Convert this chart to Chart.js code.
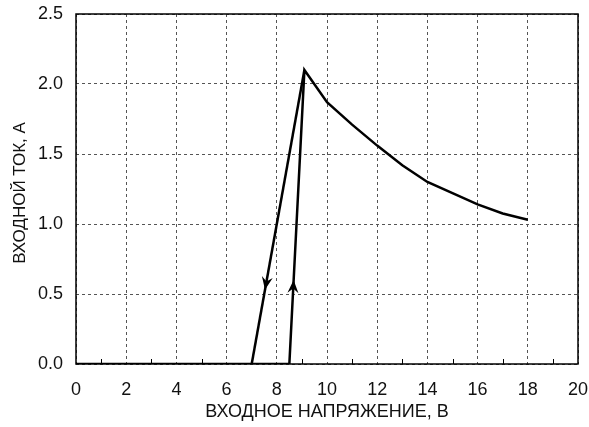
<!DOCTYPE html>
<html>
<head>
<meta charset="utf-8">
<script src="https://cdn.jsdelivr.net/npm/chart.js@4"></script>
<style>
  html, body { margin: 0; padding: 0; background: #fff; }
  #wrap { width: 589px; height: 427px; }
</style>
</head>
<body>
<div id="wrap"><canvas id="iv"></canvas></div>
<script>
// rising branch and the falling current after the peak
const forwardV = [0, 8.5, 9.1, 10, 11, 12, 13, 14, 15, 16, 17, 18];
const forwardI = [0, 0, 2.1, 1.87, 1.71, 1.56, 1.42, 1.30, 1.22, 1.14, 1.075, 1.03];
// return branch when the voltage goes down
const returnV = [9.1, 7.0];
const returnI = [2.1, 0];
// arrow tips placed on the two branches
const arrowV = [7.53, 8.67];
const arrowI = [0.53, 0.60];
const arrowFrom = [[9.1, 2.1], [8.5, 0]];
const xTicks = [0, 2, 4, 6, 8, 10, 12, 14, 16, 18, 20];
const yTicks = [0, 0.5, 1.0, 1.5, 2.0, 2.5];
const xTitle = 'ВХОДНОЕ НАПРЯЖЕНИЕ, В';
const yTitle = 'ВХОДНОЙ ТОК, А';

const toPts = (xs, ys) => xs.map((x, i) => ({ x: x, y: ys[i] }));
const fontFamily = 'Liberation Sans, Arial, sans-serif';
const font = { family: fontFamily, size: 18 };

// frame, minor ticks on the bottom axis, arrowheads and axis titles
const decor = {
  id: 'decor',
  beforeDatasetsDraw(chart) {
    const c = chart.ctx, a = chart.chartArea, xs = chart.scales.x;
    c.save();
    c.strokeStyle = '#000';
    c.lineWidth = 1.5;
    c.strokeRect(a.left, a.top, a.right - a.left, a.bottom - a.top);
    c.lineWidth = 1;
    for (let v = 1; v < 20; v += 2) {
      const px = Math.round(xs.getPixelForValue(v)) + 0.5;
      c.beginPath();
      c.moveTo(px, a.bottom);
      c.lineTo(px, a.bottom - 5);
      c.stroke();
    }
    c.restore();
  },
  afterDatasetsDraw(chart) {
    const c = chart.ctx, xs = chart.scales.x, ys = chart.scales.y, a = chart.chartArea;
    c.save();
    c.fillStyle = '#000';
    arrowV.forEach((v, i) => {
      const tx = xs.getPixelForValue(v), ty = ys.getPixelForValue(arrowI[i]);
      const fx = xs.getPixelForValue(arrowFrom[i][0]), fy = ys.getPixelForValue(arrowFrom[i][1]);
      const ang = Math.atan2(ty - fy, tx - fx);
      c.save();
      c.translate(tx, ty);
      c.rotate(ang);
      c.beginPath();
      c.moveTo(0, 0);
      c.lineTo(-13, -5.5);
      c.lineTo(-8.5, 0);
      c.lineTo(-13, 5.5);
      c.closePath();
      c.fill();
      c.restore();
    });

    // axis titles
    c.fillStyle = '#111';
    c.font = '18px ' + fontFamily;
    c.textAlign = 'center';
    c.textBaseline = 'middle';
    c.fillText(xTitle, (a.left + a.right) / 2, 412);
    c.font = '17px ' + fontFamily;
    c.translate(20, (a.top + a.bottom) / 2 + 4);
    c.rotate(-Math.PI / 2);
    c.fillText(yTitle, 0, 0);
    c.restore();
  }
};

new Chart(document.getElementById('iv'), {
  type: 'scatter',
  data: {
    datasets: [
      { data: toPts(forwardV, forwardI), showLine: true, borderColor: '#000', borderWidth: 2.5, pointRadius: 0, tension: 0 },
      { data: toPts(returnV, returnI), showLine: true, borderColor: '#000', borderWidth: 2.5, pointRadius: 0, tension: 0 }
    ]
  },
  options: {
    responsive: true,
    maintainAspectRatio: false,
    animation: false,
    layout: { padding: { left: 0, right: 11, top: 14, bottom: 0 } },
    plugins: { legend: { display: false }, tooltip: { enabled: false } },
    scales: {
      x: {
        type: 'linear', min: 0, max: 20,
        afterBuildTicks: s => { s.ticks = xTicks.map(v => ({ value: v })); },
        afterFit: s => { s.height = 63; s.paddingLeft = 0; s.paddingRight = 0; },
        grid: { color: '#555', lineWidth: 1, drawTicks: false },
        border: { display: false, dash: [3, 3] },
        ticks: { color: '#111', font: font, padding: 15, maxRotation: 0, autoSkip: false, callback: v => String(v) }
      },
      y: {
        type: 'linear', min: 0, max: 2.5,
        afterBuildTicks: s => { s.ticks = yTicks.map(v => ({ value: v })); },
        afterFit: s => { s.width = 76; s.paddingTop = 0; s.paddingBottom = 0; },
        grid: { color: '#555', lineWidth: 1, drawTicks: false },
        border: { display: false, dash: [3, 3] },
        ticks: { color: '#111', font: font, padding: 13, callback: v => v.toFixed(1) }
      }
    }
  },
  plugins: [decor]
});
</script>
</body>
</html>
